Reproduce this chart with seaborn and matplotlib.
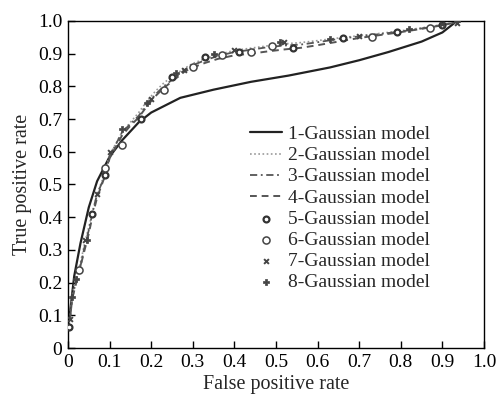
import matplotlib
matplotlib.use("Agg")
import matplotlib.pyplot as plt
import seaborn as sns

# ROC curves
fpr1 = [0, 0.005, 0.015, 0.03, 0.05, 0.07, 0.1, 0.13, 0.17, 0.2, 0.27, 0.35,
        0.44, 0.53, 0.63, 0.7, 0.77, 0.85, 0.9, 0.93]
tpr1 = [0.05, 0.11, 0.22, 0.32, 0.43, 0.51, 0.585, 0.635, 0.69, 0.72, 0.765, 0.79,
        0.814, 0.833, 0.858, 0.88, 0.905, 0.937, 0.965, 0.995]

fpr_l = [0, 0.005, 0.01, 0.02, 0.03, 0.04, 0.05, 0.06, 0.07, 0.09, 0.1, 0.13,
         0.15, 0.17, 0.19, 0.21, 0.23, 0.25, 0.28, 0.3, 0.33, 0.36, 0.4, 0.44,
         0.48, 0.52, 0.56, 0.6, 0.65, 0.7, 0.75, 0.8, 0.85, 0.9, 0.93]
tpr2 = [0.05, 0.1, 0.16, 0.22, 0.26, 0.32, 0.37, 0.42, 0.47, 0.54, 0.59, 0.66,
        0.69, 0.72, 0.755, 0.785, 0.81, 0.83, 0.855, 0.87, 0.885, 0.897, 0.91,
        0.917, 0.924, 0.93, 0.934, 0.94, 0.948, 0.955, 0.962, 0.97, 0.979, 0.989, 0.996]
tpr3 = [0.05, 0.09, 0.15, 0.21, 0.25, 0.31, 0.36, 0.42, 0.47, 0.53, 0.585, 0.66,
        0.685, 0.71, 0.745, 0.775, 0.8, 0.82, 0.85, 0.865, 0.88, 0.893, 0.905,
        0.912, 0.92, 0.925, 0.928, 0.935, 0.945, 0.953, 0.96, 0.968, 0.977, 0.988, 0.995]
tpr4 = [0.05, 0.09, 0.15, 0.2, 0.25, 0.3, 0.35, 0.41, 0.46, 0.53, 0.58, 0.65,
        0.68, 0.705, 0.74, 0.77, 0.795, 0.815, 0.845, 0.858, 0.872, 0.884, 0.895,
        0.9, 0.907, 0.913, 0.918, 0.926, 0.937, 0.948, 0.957, 0.966, 0.976, 0.987, 0.995]

fpr5 = [0.002, 0.058, 0.09, 0.175, 0.25, 0.33, 0.41, 0.54, 0.66, 0.79, 0.9]
tpr5 = [0.065, 0.41, 0.53, 0.70, 0.83, 0.89, 0.905, 0.918, 0.948, 0.966, 0.988]
fpr6 = [0.026, 0.09, 0.13, 0.23, 0.3, 0.37, 0.44, 0.49, 0.73, 0.87]
tpr6 = [0.24, 0.55, 0.62, 0.79, 0.86, 0.895, 0.905, 0.925, 0.952, 0.978]
fpr7 = [0.006, 0.04, 0.07, 0.1, 0.2, 0.28, 0.4, 0.52, 0.7, 0.9, 0.935]
tpr7 = [0.09, 0.33, 0.47, 0.6, 0.76, 0.85, 0.91, 0.935, 0.955, 0.99, 0.995]
fpr8 = [0.01, 0.02, 0.045, 0.13, 0.19, 0.26, 0.35, 0.51, 0.63, 0.82, 0.935]
tpr8 = [0.155, 0.21, 0.33, 0.67, 0.75, 0.84, 0.9, 0.935, 0.945, 0.975, 1.0]

labels = ["%d-Gaussian model" % i for i in range(1, 9)]
ticks = [0, 0.1, 0.2, 0.3, 0.4, 0.5, 0.6, 0.7, 0.8, 0.9, 1.0]
ticklabels = ["0", "0.1", "0.2", "0.3", "0.4", "0.5", "0.6", "0.7", "0.8", "0.9", "1.0"]

sns.set_style("ticks")
plt.rcParams['font.family'] = ['Liberation Serif', 'DejaVu Serif']
plt.rcParams['font.size'] = 14

f = plt.figure(figsize=(4.98, 3.96), dpi=100)
ax = f.add_axes([0.1365, 0.1212, 0.8354, 0.8258])

sns.lineplot(x=fpr1, y=tpr1, ax=ax, color="#222222", linewidth=1.6,
             linestyle="-", sort=False, estimator=None, label=labels[0])
sns.lineplot(x=fpr_l, y=tpr2, ax=ax, color="#999999", linewidth=1.2,
             linestyle=(0, (1, 1.5)), sort=False, estimator=None, label=labels[1])
sns.lineplot(x=fpr_l, y=tpr3, ax=ax, color="#555555", linewidth=1.3,
             linestyle=(0, (4, 2, 1, 2)), sort=False, estimator=None, label=labels[2])
sns.lineplot(x=fpr_l, y=tpr4, ax=ax, color="#555555", linewidth=1.4,
             linestyle=(0, (3.5, 2.5)), sort=False, estimator=None, label=labels[3])

sns.scatterplot(x=fpr5, y=tpr5, ax=ax, marker="o", s=18, facecolor="white",
                edgecolor="#333333", linewidth=1.6, label=labels[4], zorder=3)
sns.scatterplot(x=fpr6, y=tpr6, ax=ax, marker="o", s=26, facecolor="white",
                edgecolor="#444444", linewidth=1.1, label=labels[5], zorder=3)
sns.scatterplot(x=fpr7, y=tpr7, ax=ax, marker="x", s=12, color="#444444",
                linewidth=1.4, label=labels[6], zorder=3)
sns.scatterplot(x=fpr8, y=tpr8, ax=ax, marker="P", s=16, color="#444444",
                edgecolor="#444444", linewidth=0.5, label=labels[7], zorder=3)

ax.set_xlim(0, 1.0)
ax.set_ylim(0, 1.0)
ax.set_xticks(ticks)
ax.set_xticklabels(ticklabels)
ax.set_yticks(ticks)
ax.set_yticklabels(ticklabels)
ax.tick_params(direction="in", length=5, width=1, colors="black", labelsize=14,
               top=False, right=False, pad=4)
for s in ax.spines.values():
    s.set_visible(True)
    s.set_color("black")
    s.set_linewidth(1.0)

ax.set_xlabel("False positive rate", fontsize=14.5, labelpad=3)
ax.set_ylabel("True positive rate", fontsize=14.5, labelpad=4)

ax.legend(loc="upper left", bbox_to_anchor=(0.4375, 0.68), frameon=False,
          fontsize=14, borderpad=0, borderaxespad=0, handlelength=1.65,
          handletextpad=0.3, labelspacing=0.18)

f.savefig("out.png", dpi=100)
